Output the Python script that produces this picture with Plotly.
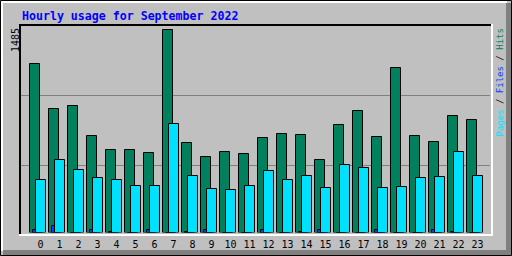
import plotly.graph_objects as go

W, H = 512, 256

hours = list(range(24))
hour_labels = [str(h) for h in hours]
hits = [1234, 905, 927, 707, 605, 605, 583, 1485, 656, 554, 591, 576,
        693, 722, 715, 532, 788, 891, 700, 1205, 707, 664, 854, 825]
files = [22, 51, 0, 15, 7, 0, 22, 0, 7, 15, 0, 0,
         15, 0, 7, 22, 0, 0, 15, 0, 0, 15, 7, 0]
pages = [386, 532, 459, 400, 386, 342, 342, 795, 415, 320, 313, 342,
         452, 386, 415, 327, 496, 474, 327, 335, 400, 408, 591, 415]
max_label = "1485"
title_text = "Hourly usage for September 2022"

GREEN = "#00805C"
BLUE = "#0040FF"
CYAN = "#00E0FF"
BG = "#C0C0C0"


def px(x):
    return x / W


def py(y):
    return 1 - y / H


# x axis: 19 px per hour, hour centre at pixel 40.5, plot area from px 20 to 491
PLOT_L, PLOT_R = 20, 491
STEP = 19.0
r0 = -(40.5 - PLOT_L) / STEP
r1 = r0 + (PLOT_R - PLOT_L) / STEP
bw = 10 / STEP

fig = go.Figure()
for vals, col, off in [(hits, GREEN, -11), (files, BLUE, -8), (pages, CYAN, -5)]:
    fig.add_trace(go.Bar(
        x=hours, y=vals, width=bw, offset=off / STEP,
        marker=dict(color=col, line=dict(color="black", width=1)),
        hoverinfo="skip", showlegend=False,
    ))

# y scale: baseline at pixel 232.5, top of domain at 26, max value at 29.8
Y_BOT, Y_TOP = 232.5, 26.0
k = (Y_BOT - 29.8) / max(hits)
ymax = (Y_BOT - Y_TOP) / k

shapes = []
# grid lines
for gy in (95, 165):
    shapes.append(dict(type="line", xref="paper", yref="paper",
                       x0=px(21), x1=px(490), y0=py(gy + 0.5), y1=py(gy + 0.5),
                       line=dict(color="#808080", width=1), layer="below"))
# inner frame
shapes += [
    dict(type="line", xref="paper", yref="paper", x0=px(19), x1=px(493), y0=py(25), y1=py(25),
         line=dict(color="black", width=2)),
    dict(type="line", xref="paper", yref="paper", x0=px(20), x1=px(20), y0=py(24), y1=py(236),
         line=dict(color="black", width=2)),
    dict(type="line", xref="paper", yref="paper", x0=px(19), x1=px(493), y0=py(235), y1=py(235),
         line=dict(color="white", width=2)),
    dict(type="line", xref="paper", yref="paper", x0=px(492), x1=px(492), y0=py(24), y1=py(236),
         line=dict(color="white", width=2)),
]
# outer bevel
shapes += [
    dict(type="rect", xref="paper", yref="paper", x0=px(506), x1=px(511), y0=py(3), y1=py(255),
         fillcolor="#808080", line=dict(width=0)),
    dict(type="rect", xref="paper", yref="paper", x0=px(3), x1=px(511), y0=py(250), y1=py(255),
         fillcolor="#808080", line=dict(width=0)),
    dict(type="line", xref="paper", yref="paper", x0=px(0), x1=px(507), y0=py(2), y1=py(2),
         line=dict(color="white", width=2)),
    dict(type="line", xref="paper", yref="paper", x0=px(2), x1=px(2), y0=py(0), y1=py(251),
         line=dict(color="white", width=2)),
    dict(type="rect", xref="paper", yref="paper", x0=px(0.5), x1=px(511.5), y0=py(0.5), y1=py(255.5),
         line=dict(color="black", width=1)),
]

annotations = [
    dict(text=title_text, xref="paper", yref="paper", x=px(20), y=py(15.5),
         xanchor="left", yanchor="middle", showarrow=False,
         font=dict(family="DejaVu Sans Mono", size=11.6, color="#0000FF", weight="bold")),
    dict(text=max_label, xref="paper", yref="paper", x=px(15), y=py(40),
         xanchor="center", yanchor="middle", textangle=-90, showarrow=False,
         font=dict(family="DejaVu Sans Mono", size=10, color="black")),
    dict(text=(f'<span style="color:{CYAN}">Pages</span> / '
               f'<span style="color:{BLUE}">Files</span> / '
               f'<span style="color:{GREEN}">Hits</span>'),
         xref="paper", yref="paper", x=px(499), y=py(82.5),
         xanchor="center", yanchor="middle", textangle=-90, showarrow=False,
         font=dict(family="DejaVu Sans Mono", size=9, color="black")),
]

fig.update_layout(
    width=W, height=H, margin=dict(l=0, r=0, t=0, b=0),
    paper_bgcolor=BG, plot_bgcolor="rgba(0,0,0,0)",
    barmode="overlay", bargap=0,
    shapes=shapes, annotations=annotations,
    xaxis=dict(domain=[px(PLOT_L), px(PLOT_R)], range=[r0, r1],
               tickvals=hours, ticktext=hour_labels, ticks="", showgrid=False,
               zeroline=False, showline=False,
               tickfont=dict(family="DejaVu Sans Mono", size=10, color="black"),
               ticklabelstandoff=4),
    yaxis=dict(domain=[py(Y_BOT), py(Y_TOP)], range=[0, ymax],
               showticklabels=False, showgrid=False, zeroline=False, showline=False),
)

fig.write_html("out.html")
